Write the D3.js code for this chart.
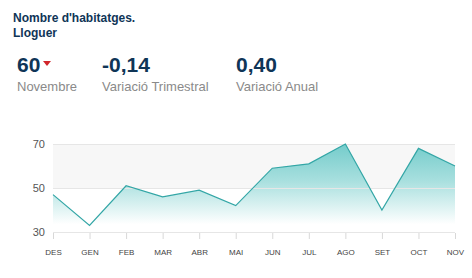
<!DOCTYPE html>
<html>
<head>
<meta charset="utf-8">
<script src="https://cdn.jsdelivr.net/npm/d3@7"></script>
<style>
  html, body { margin: 0; padding: 0; background: #fff; }
  svg { display: block; font-family: "Liberation Sans", Arial, sans-serif; }
</style>
</head>
<body>
<svg id="chart" width="472" height="278"></svg>
<script>
const months = ["DES", "GEN", "FEB", "MAR", "ABR", "MAI", "JUN", "JUL", "AGO", "SET", "OCT", "NOV"]
const values = [47, 33, 51, 46, 49, 42, 59, 61, 70, 40, 68, 60]
const yTicks = [30, 50, 70]
const titleLines = ["Nombre d'habitatges.", "Lloguer"]
const kpis = [
    { value: "60", label: "Novembre", arrow: true },
    { value: "-0,14", label: "Variació Trimestral" },
    { value: "0,40", label: "Variació Anual" }
]

const navy = "#0f3557"
const teal = "#33a6a6"

const svg = d3.select("#chart")

// header
svg.append("g")
    .selectAll("text")
    .data(titleLines)
    .join("text")
    .attr("x", 13)
    .attr("y", (d, i) => 22 + i * 15)
    .attr("fill", navy)
    .attr("font-size", 12)
    .attr("font-weight", "bold")
    .text(d => d)

const kpiX = [17, 102, 236]
const kpiG = svg.append("g")
    .selectAll("g")
    .data(kpis)
    .join("g")
    .attr("transform", (d, i) => `translate(${kpiX[i]},0)`)

kpiG.append("text")
    .attr("y", 72)
    .attr("fill", navy)
    .attr("font-size", 21)
    .attr("font-weight", "bold")
    .text(d => d.value)

kpiG.append("text")
    .attr("y", 91)
    .attr("fill", "#8a8a8a")
    .attr("font-size", 13)
    .text(d => d.label)

kpiG.filter(d => d.arrow)
    .append("path")
    .attr("d", "M26,61 L34,61 L30,66 Z")
    .attr("fill", "#d1262b")

// chart
const x = d3.scalePoint().domain(months).range([53, 455])
const y = d3.scaleLinear().domain([30, 70]).range([232, 144])

const defs = svg.append("defs")
const grad = defs.append("linearGradient")
    .attr("id", "areaGrad")
    .attr("gradientUnits", "userSpaceOnUse")
    .attr("x1", 0).attr("x2", 0)
    .attr("y1", y(70)).attr("y2", y(33.5))
grad.append("stop").attr("offset", 0).attr("stop-color", "#74cccb")
grad.append("stop").attr("offset", 0.45).attr("stop-color", "#a7dfde")
grad.append("stop").attr("offset", 1).attr("stop-color", "#ffffff")

// plot band between 50 and 70
svg.append("rect")
    .attr("x", 53)
    .attr("width", 455 - 53)
    .attr("y", y(70))
    .attr("height", y(50) - y(70))
    .attr("fill", "#f7f7f7")

const area = d3.area()
    .x((d, i) => x(months[i]))
    .y0(y(30))
    .y1(d => y(d))

svg.append("path")
    .datum(values)
    .attr("d", area)
    .attr("fill", "url(#areaGrad)")

// grid lines
svg.append("g")
    .selectAll("line")
    .data(yTicks)
    .join("line")
    .attr("x1", 53).attr("x2", 455)
    .attr("y1", d => y(d) + 0.5).attr("y2", d => y(d) + 0.5)
    .attr("stroke", "#e6e6e6")
    .attr("stroke-width", 1)

const line = d3.line()
    .x((d, i) => x(months[i]))
    .y(d => y(d))

svg.append("path")
    .datum(values)
    .attr("d", line)
    .attr("fill", "none")
    .attr("stroke", teal)
    .attr("stroke-width", 1.2)

// y axis labels
svg.append("g")
    .selectAll("text")
    .data(yTicks)
    .join("text")
    .attr("x", 45)
    .attr("y", d => y(d) + 4)
    .attr("text-anchor", "end")
    .attr("fill", "#555")
    .attr("font-size", 11)
    .text(d => d)

// x axis
const xAxis = svg.append("g")
    .attr("transform", `translate(0,${y(30) + 1})`)
    .call(d3.axisBottom(x).tickSize(6).tickPadding(10))

xAxis.select(".domain").remove()
xAxis.selectAll(".tick line")
    .attr("stroke", "#d8d8d8")
xAxis.selectAll(".tick text")
    .attr("fill", "#444")
    .attr("font-size", 8)
    .attr("font-family", "Liberation Sans, Arial, sans-serif")
</script>
</body>
</html>
